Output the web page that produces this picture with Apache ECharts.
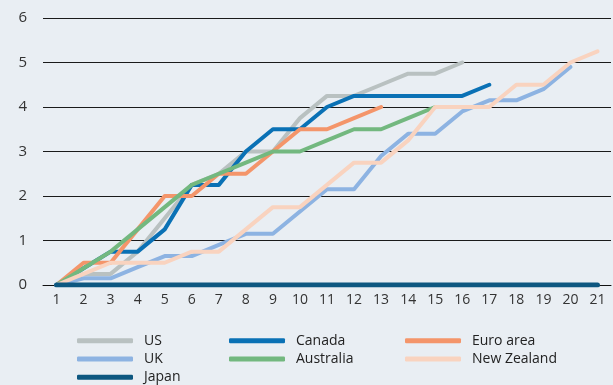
<!DOCTYPE html>
<html>
<head>
<meta charset="utf-8">
<script src="https://cdn.jsdelivr.net/npm/echarts@6/dist/echarts.min.js"></script>
<style>
  html, body { margin: 0; padding: 0; background: #e9eef3; }
  #chart { width: 613px; height: 385px; }
</style>
</head>
<body>
<div id="chart"></div>
<script>
// categories 1..21
var categories = ['1','2','3','4','5','6','7','8','9','10','11','12','13','14','15','16','17','18','19','20','21'];

var us        = [0, 0.25, 0.25, 0.75, 1.5, 2.25, 2.5, 3, 3, 3.75, 4.25, 4.25, 4.5, 4.75, 4.75, 5, null, null, null, null, null];
var canada    = [0, 0.375, 0.75, 0.75, 1.25, 2.25, 2.25, 3, 3.5, 3.5, 4, 4.25, 4.25, 4.25, 4.25, 4.25, 4.5, null, null, null, null];
var euroArea  = [0, 0.5, 0.5, 1.25, 2, 2, 2.5, 2.5, 3, 3.5, 3.5, 3.75, 4, null, null, null, null, null, null, null, null];
var uk        = [0, 0.15, 0.15, 0.4, 0.65, 0.65, 0.9, 1.15, 1.15, 1.65, 2.15, 2.15, 2.9, 3.4, 3.4, 3.9, 4.15, 4.15, 4.4, 4.9, null];
var australia = [0, 0.375, 0.75, 1.25, 1.75, 2.25, 2.5, 2.75, 3, 3, 3.25, 3.5, 3.5, 3.75, 4, null, null, null, null, null, null];
var newZealand= [0, 0.25, 0.5, 0.5, 0.5, 0.75, 0.75, 1.25, 1.75, 1.75, 2.25, 2.75, 2.75, 3.25, 4, 4, 4, 4.5, 4.5, 5, 5.25];
var japan     = [0, 0, 0, 0, 0, 0, 0, 0, 0, 0, 0, 0, 0, 0, 0, 0, 0, 0, 0, 0, 0];

// legend layout: [name, left, top]
var legendSlots = [
    ['US', 77, 333.7], ['UK', 77, 352], ['Japan', 77, 370.3],
    ['Canada', 229, 333.7], ['Australia', 229, 352],
    ['Euro area', 405, 333.7], ['New Zealand', 405, 352]
];

var chart = echarts.init(document.getElementById('chart'));

var mk = function (name, data, color, width) {
    return {
        name: name, type: 'line', data: data,
        symbol: 'none', connectNulls: false,
        lineStyle: {color: color, width: width || 4, cap: 'round', join: 'round'},
        itemStyle: {color: color}
    };
};

var legends = legendSlots.map(function (s) {
    return {
        left: s[1], top: s[2], data: [s[0]], padding: 0,
        itemWidth: 56, itemHeight: 5, icon: 'roundRect',
        textStyle: {fontFamily: 'Open Sans', fontSize: 14, color: '#222', lineHeight: 14, padding: [0, 0, 0, 6]}
    };
});

chart.setOption({
    backgroundColor: '#e9eef3',
    animation: false,
    grid: {left: 43, right: 2, top: 18, bottom: 100},
    legend: legends,
    xAxis: {
        type: 'category', boundaryGap: true, data: categories,
        axisLine: {lineStyle: {color: '#111', width: 1}},
        axisTick: {inside: true, length: 5, lineStyle: {color: '#111'}},
        axisLabel: {fontFamily: 'Open Sans', fontSize: 14, color: '#333', margin: 8}
    },
    yAxis: {
        type: 'value', min: 0, max: 6, interval: 1,
        axisLine: {show: false}, axisTick: {show: false},
        axisLabel: {fontFamily: 'Open Sans', fontSize: 15, color: '#333', margin: 16},
        splitLine: {lineStyle: {color: '#1a1a1a', width: 1}}
    },
    series: [
        mk('US', us, '#b9c1c1'),
        mk('Canada', canada, '#0a71b5'),
        mk('Euro area', euroArea, '#f4956a'),
        mk('UK', uk, '#8db3e2'),
        mk('Australia', australia, '#73b87f'),
        mk('New Zealand', newZealand, '#f9d3bf'),
        mk('Japan', japan, '#0d5780', 5)
    ]
});
window.onresize = chart.resize;
</script>
</body>
</html>
